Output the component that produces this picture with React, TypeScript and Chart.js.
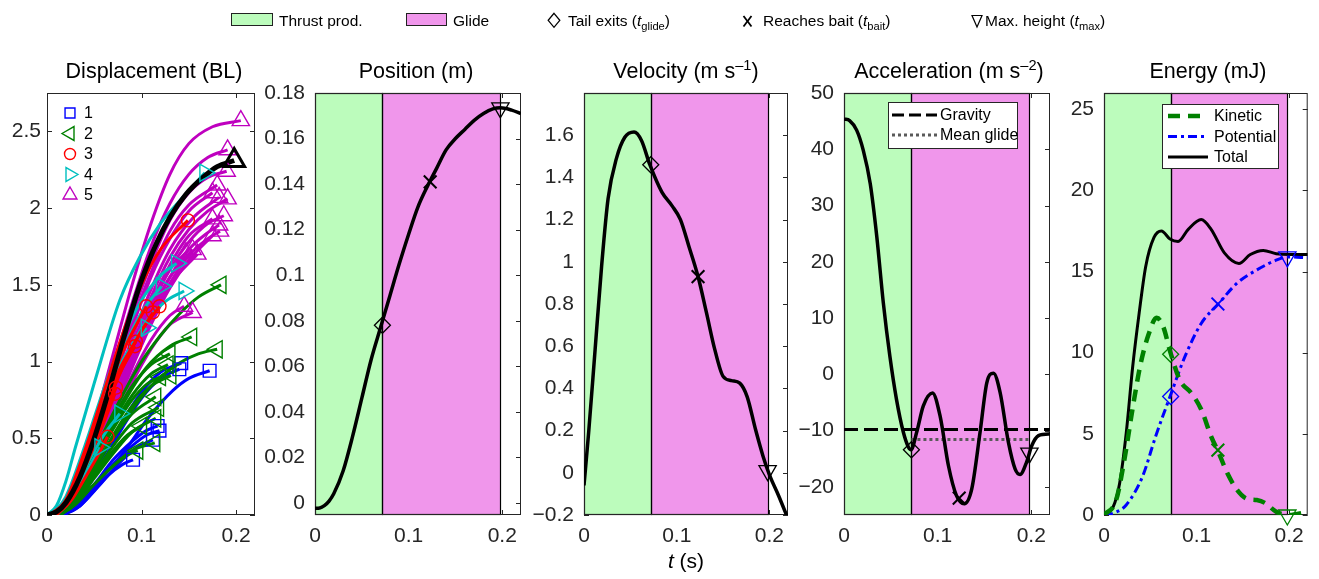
import React, { useEffect, useRef } from 'react';
import { Chart, registerables } from 'chart.js';

Chart.register(...registerables);

const FONT = "'Liberation Sans', Arial, Helvetica, sans-serif";
const AXIS_COLOR = '#262626';
const THRUST_FILL = 'rgb(188,252,188)';
const GLIDE_FILL = 'rgb(240,150,235)';
const PAGE_W = 1319;
const PAGE_H = 579;
const PLOT_TOP = 93;
const PLOT_BOTTOM = 515;
const X_AXIS_H = 40;

// ---- shared time axis ----
const tLimits = [0, 0.22];
const tTicks = [0, 0.1, 0.2];
const tTickLabels = ['0', '0.1', '0.2'];

// ---- event times (s) ----
const tGlide = 0.072;
const tBait = 0.123;
const tPeak = 0.198;
const eventTimes = [tGlide, tBait, tPeak];
const eventStyles = ['rectRot', 'crossRot', 'triangle'];
const eventRotation = [0, 0, 180];
const eventRadius = [8, 9, 10];
const eventLineWidth = [1.3, 2, 1.3];

// ---- Displacement (BL) ----
const dispTicks = [0, 0.5, 1, 1.5, 2, 2.5];
const dispTickLabels = ['0', '0.5', '1', '1.5', '2', '2.5'];
const groupNames = ['1', '2', '3', '4', '5'];
const groupColors = ['#0000FF', '#008000', '#FF0000', '#00BFBF', '#BF00BF'];
const groupMarkers = ['rect', 'triangle', 'circle', 'triangle', 'triangle'];
const groupMarkerRot = [0, 270, 0, 90, 0];
const groupMarkerSize = [9, 10, 6.5, 10, 10];
const groupLegendSize = [7, 8, 5.5, 8, 8];

const dispGroup1 = [
  [[0.014, 0], [0.03, 0.05], [0.05, 0.19], [0.08, 0.4], [0.108, 0.64], [0.133, 0.81], [0.15, 0.89], [0.172, 0.94]],
  [[0.012, 0], [0.03, 0.08], [0.05, 0.28], [0.075, 0.56], [0.1, 0.8], [0.12, 0.93], [0.142, 0.99]],
  [[0.013, 0], [0.03, 0.07], [0.05, 0.25], [0.075, 0.52], [0.1, 0.76], [0.12, 0.89], [0.14, 0.95]],
  [[0.015, 0], [0.03, 0.06], [0.05, 0.2], [0.07, 0.36], [0.09, 0.48], [0.105, 0.55], [0.117, 0.58]],
  [[0.016, 0], [0.03, 0.05], [0.05, 0.18], [0.07, 0.33], [0.09, 0.45], [0.105, 0.52], [0.119, 0.55]],
  [[0.017, 0], [0.035, 0.06], [0.055, 0.19], [0.075, 0.33], [0.095, 0.44], [0.112, 0.49]],
  [[0.018, 0], [0.035, 0.06], [0.05, 0.16], [0.065, 0.26], [0.08, 0.33], [0.091, 0.36]],
];
const dispGroup2 = [
  [[0.008, 0], [0.025, 0.1], [0.049, 0.4], [0.073, 0.7], [0.098, 0.98], [0.12, 1.17], [0.14, 1.31], [0.16, 1.42], [0.184, 1.5]],
  [[0.01, 0], [0.03, 0.1], [0.05, 0.3], [0.08, 0.6], [0.11, 0.84], [0.14, 0.99], [0.16, 1.05], [0.18, 1.08]],
  [[0.008, 0], [0.03, 0.12], [0.05, 0.36], [0.08, 0.72], [0.105, 0.96], [0.13, 1.1], [0.153, 1.16]],
  [[0.008, 0], [0.03, 0.13], [0.05, 0.38], [0.07, 0.63], [0.09, 0.84], [0.11, 0.98], [0.13, 1.05]],
  [[0.01, 0], [0.03, 0.11], [0.05, 0.34], [0.07, 0.58], [0.09, 0.78], [0.11, 0.92], [0.128, 0.98]],
  [[0.01, 0], [0.03, 0.1], [0.05, 0.3], [0.07, 0.52], [0.09, 0.71], [0.11, 0.84], [0.131, 0.91]],
  [[0.009, 0], [0.03, 0.11], [0.05, 0.33], [0.07, 0.56], [0.09, 0.75], [0.105, 0.85], [0.12, 0.9]],
  [[0.01, 0], [0.03, 0.1], [0.05, 0.3], [0.07, 0.5], [0.09, 0.66], [0.115, 0.77]],
  [[0.012, 0], [0.03, 0.09], [0.05, 0.27], [0.07, 0.45], [0.09, 0.6], [0.118, 0.7]],
  [[0.012, 0], [0.03, 0.08], [0.05, 0.24], [0.07, 0.4], [0.09, 0.54], [0.115, 0.63]],
  [[0.011, 0], [0.03, 0.09], [0.05, 0.26], [0.07, 0.42], [0.085, 0.52], [0.1, 0.58]],
  [[0.014, 0], [0.03, 0.07], [0.05, 0.2], [0.07, 0.32], [0.09, 0.42], [0.114, 0.47]],
  [[0.014, 0], [0.03, 0.07], [0.05, 0.2], [0.07, 0.32], [0.085, 0.39], [0.096, 0.42]],
];
const dispGroup3 = [
  [[0.003, 0], [0.02, 0.1], [0.04, 0.42], [0.06, 0.8], [0.08, 1.18], [0.1, 1.5], [0.12, 1.73], [0.149, 1.92]],
  [[0.005, 0], [0.02, 0.09], [0.04, 0.38], [0.06, 0.74], [0.08, 1.06], [0.105, 1.36]],
  [[0.006, 0], [0.02, 0.08], [0.04, 0.34], [0.06, 0.66], [0.08, 0.96], [0.1, 1.2], [0.119, 1.36]],
  [[0.006, 0], [0.02, 0.09], [0.04, 0.36], [0.06, 0.68], [0.08, 0.98], [0.1, 1.2], [0.112, 1.32]],
  [[0.005, 0], [0.02, 0.09], [0.04, 0.38], [0.06, 0.72], [0.08, 0.99], [0.094, 1.13]],
  [[0.006, 0], [0.02, 0.08], [0.04, 0.36], [0.06, 0.69], [0.08, 0.96], [0.093, 1.1]],
  [[0.006, 0], [0.02, 0.08], [0.04, 0.33], [0.06, 0.63], [0.073, 0.83]],
  [[0.007, 0], [0.02, 0.07], [0.04, 0.31], [0.06, 0.6], [0.072, 0.79]],
  [[0.01, 0], [0.025, 0.09], [0.04, 0.24], [0.055, 0.4], [0.064, 0.51]],
];
const dispGroup4 = [
  [[0, 0], [0.01, 0.06], [0.02, 0.22], [0.03, 0.44], [0.05, 0.86], [0.077, 1.4], [0.098, 1.68], [0.12, 1.9], [0.145, 2.08], [0.167, 2.23]],
  [[0.005, 0], [0.02, 0.12], [0.04, 0.45], [0.06, 0.82], [0.08, 1.15], [0.1, 1.4], [0.12, 1.56], [0.137, 1.64]],
  [[0.008, 0], [0.02, 0.1], [0.04, 0.4], [0.06, 0.75], [0.08, 1.07], [0.1, 1.32], [0.121, 1.49]],
  [[0.008, 0], [0.025, 0.14], [0.045, 0.45], [0.065, 0.78], [0.085, 1.05], [0.105, 1.26], [0.125, 1.39], [0.145, 1.46]],
  [[0.008, 0], [0.025, 0.15], [0.045, 0.48], [0.065, 0.82], [0.085, 1.06], [0.105, 1.22]],
  [[0.01, 0], [0.025, 0.1], [0.04, 0.3], [0.06, 0.52], [0.077, 0.66]],
  [[0.01, 0], [0.025, 0.1], [0.04, 0.26], [0.056, 0.44]],
];
const dispGroup5 = [
  [[0.01, 0], [0.03, 0.2], [0.05, 0.6], [0.07, 1.05], [0.09, 1.5], [0.11, 1.9], [0.13, 2.22], [0.15, 2.42], [0.175, 2.53], [0.205, 2.57]],
  [[0.012, 0], [0.03, 0.18], [0.05, 0.55], [0.07, 0.97], [0.09, 1.38], [0.11, 1.75], [0.13, 2.03], [0.15, 2.22], [0.17, 2.33], [0.191, 2.38]],
  [[0.012, 0], [0.03, 0.17], [0.05, 0.52], [0.07, 0.92], [0.09, 1.3], [0.11, 1.64], [0.13, 1.92], [0.15, 2.1], [0.17, 2.2], [0.19, 2.24]],
  [[0.013, 0], [0.03, 0.16], [0.05, 0.5], [0.07, 0.88], [0.09, 1.25], [0.11, 1.58], [0.13, 1.85], [0.15, 2.02], [0.18, 2.15]],
  [[0.013, 0], [0.03, 0.16], [0.05, 0.48], [0.07, 0.85], [0.09, 1.22], [0.11, 1.55], [0.13, 1.8], [0.15, 1.98], [0.175, 2.1]],
  [[0.015, 0], [0.03, 0.13], [0.05, 0.42], [0.07, 0.76], [0.09, 1.1], [0.11, 1.42], [0.13, 1.68], [0.15, 1.86], [0.17, 1.98], [0.191, 2.06]],
  [[0.014, 0], [0.03, 0.14], [0.05, 0.45], [0.07, 0.8], [0.09, 1.15], [0.11, 1.47], [0.13, 1.73], [0.155, 1.94], [0.182, 2.07]],
  [[0.015, 0], [0.03, 0.13], [0.05, 0.4], [0.07, 0.72], [0.09, 1.04], [0.11, 1.35], [0.13, 1.6], [0.15, 1.78], [0.17, 1.9], [0.187, 1.95]],
  [[0.014, 0], [0.03, 0.14], [0.05, 0.43], [0.07, 0.76], [0.09, 1.08], [0.11, 1.38], [0.13, 1.63], [0.15, 1.82], [0.175, 1.93]],
  [[0.016, 0], [0.03, 0.12], [0.05, 0.39], [0.07, 0.7], [0.09, 1.01], [0.11, 1.3], [0.13, 1.55], [0.15, 1.73], [0.17, 1.84], [0.182, 1.89]],
  [[0.016, 0], [0.03, 0.12], [0.05, 0.38], [0.07, 0.68], [0.09, 0.98], [0.11, 1.27], [0.13, 1.51], [0.15, 1.69], [0.17, 1.8], [0.183, 1.85]],
  [[0.017, 0], [0.03, 0.11], [0.05, 0.36], [0.07, 0.66], [0.09, 0.96], [0.11, 1.24], [0.13, 1.48], [0.15, 1.66], [0.175, 1.82]],
  [[0.015, 0], [0.03, 0.13], [0.05, 0.41], [0.07, 0.74], [0.09, 1.05], [0.11, 1.33], [0.13, 1.55], [0.154, 1.73]],
  [[0.016, 0], [0.03, 0.12], [0.05, 0.38], [0.07, 0.69], [0.09, 0.99], [0.11, 1.27], [0.13, 1.5], [0.159, 1.7]],
  [[0.014, 0], [0.03, 0.14], [0.05, 0.44], [0.07, 0.78], [0.09, 1.1], [0.11, 1.38], [0.13, 1.6], [0.147, 1.71]],
  [[0.016, 0], [0.03, 0.11], [0.05, 0.33], [0.07, 0.6], [0.09, 0.86], [0.11, 1.08], [0.13, 1.24], [0.154, 1.32]],
  [[0.015, 0], [0.03, 0.12], [0.05, 0.36], [0.07, 0.64], [0.09, 0.91], [0.11, 1.14], [0.13, 1.3], [0.145, 1.36]],
];
const dispHighlightT = [0, 0.01, 0.02, 0.035, 0.05, 0.064, 0.08, 0.093, 0.1, 0.115, 0.13, 0.147, 0.165, 0.18, 0.198];
const dispHighlightY = [0, 0.02, 0.08, 0.25, 0.5, 0.78, 1.13, 1.4, 1.53, 1.76, 1.94, 2.09, 2.2, 2.27, 2.31];

// ---- Position (m) ----
const posTicks = [0, 0.02, 0.04, 0.06, 0.08, 0.1, 0.12, 0.14, 0.16, 0.18];
const posTickLabels = ['0', '0.02', '0.04', '0.06', '0.08', '0.1', '0.12', '0.14', '0.16', '0.18'];
const posT = [0, 0.005, 0.01, 0.015, 0.02, 0.03, 0.04, 0.05, 0.06, 0.07, 0.08, 0.09, 0.1, 0.11, 0.12, 0.13, 0.14, 0.15, 0.16, 0.17, 0.18, 0.19, 0.198, 0.21, 0.22];
const posY = [-0.0023, -0.0022, -0.0012, 0.0008, 0.004, 0.014, 0.029, 0.046, 0.063, 0.077, 0.091, 0.105, 0.118, 0.13, 0.139, 0.147, 0.155, 0.16, 0.164, 0.168, 0.171, 0.173, 0.1735, 0.1725, 0.171];
const posEvents = [0.078, 0.141, 0.1735];

// ---- Velocity (m/s) ----
const velTicks = [-0.2, 0, 0.2, 0.4, 0.6, 0.8, 1, 1.2, 1.4, 1.6];
const velTickLabels = ['\u22120.2', '0', '0.2', '0.4', '0.6', '0.8', '1', '1.2', '1.4', '1.6'];
const velT = [0, 0.005, 0.012, 0.019, 0.026, 0.035, 0.044, 0.054, 0.062, 0.071, 0.084, 0.095, 0.104, 0.113, 0.123, 0.132, 0.141, 0.15, 0.159, 0.168, 0.176, 0.185, 0.193, 0.2, 0.21, 0.222];
const velY = [-0.06, 0.19, 0.585, 0.98, 1.3, 1.49, 1.59, 1.615, 1.575, 1.46, 1.33, 1.265, 1.2, 1.075, 0.93, 0.76, 0.585, 0.457, 0.437, 0.425, 0.36, 0.205, 0.08, -0.01, -0.11, -0.24];
const velEvents = [1.46, 0.93, 0.01];

// ---- Acceleration (m/s^2) ----
const accTicks = [-20, -10, 0, 10, 20, 30, 40, 50];
const accTickLabels = ['\u221220', '\u221210', '0', '10', '20', '30', '40', '50'];
const accT = [0, 0.006, 0.0135, 0.0206, 0.028, 0.035, 0.042, 0.049, 0.056, 0.0634, 0.0687, 0.0716, 0.0776, 0.0847, 0.0945, 0.1026, 0.1115, 0.12, 0.1285, 0.1364, 0.1453, 0.1525, 0.1596, 0.1667, 0.1756, 0.1827, 0.188, 0.195, 0.2005, 0.2077, 0.2184, 0.22];
const accY = [45.4, 45.1, 43.4, 39.8, 33.9, 24.5, 12.7, 3.2, -4.4, -10.3, -12.9, -13.4, -10.3, -5.6, -3.3, -7.4, -16.2, -21.5, -23.0, -20.4, -10.3, -1.5, 0.2, -3.2, -12.1, -16.8, -17.8, -15.6, -12.7, -10.9, -10.6, -10.6];
const accEvents = [-13.4, -22.0, -14.0];
const gravityAcc = -9.81;
const meanGlideAcc = -11.6;

// ---- Energy (mJ) ----
const energyTicks = [0, 5, 10, 15, 20, 25];
const energyTickLabels = ['0', '5', '10', '15', '20', '25'];
const totalT = [0, 0.0099, 0.0169, 0.024, 0.031, 0.038, 0.045, 0.054, 0.062, 0.0713, 0.08, 0.091, 0.105, 0.1157, 0.13, 0.1457, 0.158, 0.172, 0.186, 0.2, 0.22];
const totalY = [0, 0.5, 1.96, 5.04, 9.15, 12.45, 15.3, 17.1, 17.5, 17.0, 16.85, 17.6, 18.2, 17.6, 16.15, 15.5, 16.05, 16.3, 16.1, 16.05, 16.05];
const kineticT = [0, 0.013, 0.022, 0.031, 0.0395, 0.048, 0.0568, 0.064, 0.0713, 0.082, 0.0945, 0.105, 0.116, 0.1234, 0.133, 0.1437, 0.1543, 0.165, 0.174, 0.186, 0.198, 0.22];
const kineticY = [0, 0.9, 3.4, 6.6, 9.3, 11.1, 12.15, 11.6, 10.1, 8.3, 7.5, 6.5, 4.8, 3.9, 2.6, 1.55, 1.0, 0.92, 0.74, 0.2, 0.0, 0.2];
const potentialT = [0, 0.012, 0.024, 0.0416, 0.0557, 0.0713, 0.0875, 0.105, 0.1234, 0.144, 0.165, 0.186, 0.1986, 0.22];
const potentialY = [0, 0.15, 0.62, 2.37, 4.83, 7.3, 9.77, 11.8, 13.0, 14.3, 15.1, 15.7, 15.9, 15.85];
const kineticEvents = [9.9, 4.0, 0.0];
const potentialEvents = [7.3, 13.0, 15.9];

// ---------------- helpers ----------------
const pts = (xs: number[], ys: number[]) => xs.map((x, i) => ({ x, y: ys[i] }));
const pairPts = (arr: number[][]) => arr.map(([x, y]) => ({ x, y }));

function curve(data: any[], color: string, width: number, dash: number[] = []) {
  return {
    data,
    showLine: true,
    borderColor: color,
    backgroundColor: color,
    borderWidth: width,
    borderDash: dash,
    borderCapStyle: 'butt',
    borderJoinStyle: 'round',
    pointRadius: 0,
    pointHoverRadius: 0,
    cubicInterpolationMode: 'monotone',
    fill: false,
    clip: 0,
  };
}

function eventMarkers(ys: number[], color: string) {
  return {
    data: eventTimes.map((t, i) => ({ x: t, y: ys[i] })),
    showLine: false,
    pointStyle: eventStyles,
    pointRotation: eventRotation,
    pointRadius: eventRadius,
    pointHoverRadius: eventRadius,
    pointBorderWidth: eventLineWidth,
    pointBorderColor: color,
    pointBackgroundColor: 'rgba(0,0,0,0)',
    clip: false,
  };
}

function endMarkers(curves: number[][][], g: number) {
  return {
    data: curves.map((c) => ({ x: c[c.length - 1][0], y: c[c.length - 1][1] })),
    showLine: false,
    pointStyle: groupMarkers[g],
    pointRotation: groupMarkerRot[g],
    pointRadius: groupMarkerSize[g],
    pointHoverRadius: groupMarkerSize[g],
    pointBorderWidth: 1.4,
    pointBorderColor: groupColors[g],
    pointBackgroundColor: 'rgba(0,0,0,0)',
    clip: false,
  };
}

function drawMarker(ctx: CanvasRenderingContext2D, style: string, rot: number, x: number, y: number, r: number, color: string, lw: number) {
  ctx.save();
  ctx.strokeStyle = color;
  ctx.lineWidth = lw;
  ctx.setLineDash([]);
  ctx.beginPath();
  if (style === 'circle') {
    ctx.arc(x, y, r, 0, Math.PI * 2);
  } else if (style === 'rect') {
    const s = r * Math.SQRT1_2;
    ctx.rect(x - s, y - s, 2 * s, 2 * s);
  } else {
    let rad = (rot * Math.PI) / 180;
    for (let k = 0; k < 3; k++) {
      const px = x + Math.sin(rad) * r;
      const py = y - Math.cos(rad) * r;
      if (k === 0) ctx.moveTo(px, py);
      else ctx.lineTo(px, py);
      rad += (2 * Math.PI) / 3;
    }
    ctx.closePath();
  }
  ctx.stroke();
  ctx.restore();
}

function drawLegendBox(chart: any, cfg: any) {
  const { ctx, chartArea: a } = chart;
  const bx = a.left + cfg.dx;
  const by = a.top + cfg.dy;
  ctx.save();
  ctx.fillStyle = '#fff';
  ctx.fillRect(bx, by, cfg.w, cfg.h);
  ctx.strokeStyle = AXIS_COLOR;
  ctx.lineWidth = 1;
  ctx.setLineDash([]);
  ctx.strokeRect(bx + 0.5, by + 0.5, cfg.w - 1, cfg.h - 1);
  cfg.items.forEach((it: any, i: number) => {
    const y = by + cfg.rows[i];
    ctx.strokeStyle = it.color;
    ctx.lineWidth = it.width;
    ctx.setLineDash(it.dash);
    ctx.beginPath();
    ctx.moveTo(bx + cfg.s0, y);
    ctx.lineTo(bx + cfg.s1, y);
    ctx.stroke();
    ctx.setLineDash([]);
    ctx.fillStyle = '#000';
    ctx.font = `16px ${FONT}`;
    ctx.textBaseline = 'middle';
    ctx.textAlign = 'left';
    ctx.fillText(it.label, bx + cfg.tx, y + 1);
  });
  ctx.restore();
}

function framePlugin(spec: any) {
  return {
    id: 'frame_' + spec.id,
    beforeDatasetsDraw(chart: any) {
      const { ctx, chartArea: a, scales } = chart;
      const xs = scales.x;
      const ys = scales.y;
      ctx.save();
      ctx.strokeStyle = AXIS_COLOR;
      ctx.lineWidth = 1;
      ctx.setLineDash([]);
      ctx.beginPath();
      spec.yTicks.forEach((v: number) => {
        const py = Math.round(ys.getPixelForValue(v)) + 0.5;
        ctx.moveTo(a.left, py);
        ctx.lineTo(a.left + 5, py);
        ctx.moveTo(a.right, py);
        ctx.lineTo(a.right - 5, py);
      });
      tTicks.forEach((v) => {
        const px = Math.round(xs.getPixelForValue(v)) + 0.5;
        ctx.moveTo(px, a.bottom);
        ctx.lineTo(px, a.bottom - 5);
        ctx.moveTo(px, a.top);
        ctx.lineTo(px, a.top + 5);
      });
      ctx.stroke();
      if (spec.phases) {
        const x0 = Math.round(xs.getPixelForValue(0));
        const x1 = Math.round(xs.getPixelForValue(tGlide));
        const x2 = Math.round(xs.getPixelForValue(tPeak));
        ctx.fillStyle = THRUST_FILL;
        ctx.fillRect(x0, a.top, x1 - x0, a.height);
        ctx.fillStyle = GLIDE_FILL;
        ctx.fillRect(x1, a.top, x2 - x1, a.height);
        ctx.strokeStyle = '#000';
        ctx.lineWidth = 1.2;
        ctx.strokeRect(x0 + 0.5, a.top + 0.5, x1 - x0, a.height - 1);
        ctx.strokeRect(x1 + 0.5, a.top + 0.5, x2 - x1, a.height - 1);
      }
      ctx.strokeStyle = AXIS_COLOR;
      ctx.lineWidth = 1;
      ctx.strokeRect(a.left + 0.5, a.top + 0.5, a.width - 1, a.height - 1);
      ctx.restore();
    },
    afterDatasetsDraw(chart: any) {
      if (spec.legend) spec.legend(chart);
    },
  };
}

function makeChart(canvas: HTMLCanvasElement, spec: any) {
  const yw = spec.yAxisWidth;
  // Chart.js paints the first dataset on top, so hand them over in reverse
  const datasets = [...spec.datasets].reverse();
  return new Chart(canvas, {
    type: 'scatter',
    data: { datasets },
    options: {
      animation: false,
      responsive: false,
      maintainAspectRatio: false,
      devicePixelRatio: 1,
      events: [],
      layout: {
        padding: {
          left: spec.left - yw,
          right: PAGE_W - spec.right,
          top: PLOT_TOP,
          bottom: PAGE_H - PLOT_BOTTOM - X_AXIS_H,
        },
      },
      plugins: {
        legend: { display: false },
        tooltip: { enabled: false },
        title: { display: false },
      },
      scales: {
        x: {
          type: 'linear',
          min: tLimits[0],
          max: tLimits[1],
          grid: { display: false, drawTicks: false },
          border: { display: false },
          afterBuildTicks: (s: any) => {
            s.ticks = tTicks.map((v) => ({ value: v }));
          },
          afterFit: (s: any) => {
            s.height = X_AXIS_H;
          },
          ticks: {
            font: { family: FONT, size: 21 },
            color: AXIS_COLOR,
            padding: 9,
            maxRotation: 0,
            minRotation: 0,
            autoSkip: false,
            callback: (_v: any, i: number) => tTickLabels[i],
          },
        },
        y: {
          type: 'linear',
          min: spec.yMin,
          max: spec.yMax,
          grid: { display: false, drawTicks: false },
          border: { display: false },
          afterBuildTicks: (s: any) => {
            s.ticks = spec.yTicks.map((v: number) => ({ value: v }));
          },
          afterFit: (s: any) => {
            s.width = yw;
          },
          ticks: {
            font: { family: FONT, size: 21 },
            color: AXIS_COLOR,
            padding: spec.yPad,
            autoSkip: false,
            callback: (_v: any, i: number) => spec.yTickLabels[i],
          },
        },
      },
    } as any,
    plugins: [framePlugin(spec)],
  } as any);
}

// ---------------- panel specs ----------------
function buildPanels() {
  const dispGroups = [dispGroup1, dispGroup2, dispGroup3, dispGroup4, dispGroup5];
  // painted bottom -> top
  const drawOrder = [4, 0, 1, 3, 2];
  const dispDatasets: any[] = [];
  drawOrder.forEach((g) => {
    dispGroups[g].forEach((c) => dispDatasets.push(curve(pairPts(c), groupColors[g], 3)));
  });
  dispDatasets.push(curve(pts(dispHighlightT, dispHighlightY), '#000', 5));
  drawOrder.forEach((g) => dispDatasets.push(endMarkers(dispGroups[g], g)));
  dispDatasets.push({
    data: [{ x: dispHighlightT[dispHighlightT.length - 1], y: dispHighlightY[dispHighlightY.length - 1] }],
    showLine: false,
    pointStyle: 'triangle',
    pointRadius: 12,
    pointBorderWidth: 3,
    pointBorderColor: '#000',
    pointBackgroundColor: 'rgba(0,0,0,0)',
    clip: false,
  });

  const dispLegend = (chart: any) => {
    const { ctx, chartArea: a } = chart;
    groupNames.forEach((name, i) => {
      const y = a.top + 20 + i * 20.5;
      drawMarker(ctx, groupMarkers[i], groupMarkerRot[i], a.left + 23, y, groupLegendSize[i], groupColors[i], 1.4);
      ctx.save();
      ctx.fillStyle = '#000';
      ctx.font = `16px ${FONT}`;
      ctx.textBaseline = 'middle';
      ctx.textAlign = 'left';
      ctx.fillText(name, a.left + 37, y + 1);
      ctx.restore();
    });
  };

  const accLegend = (chart: any) =>
    drawLegendBox(chart, {
      dx: 44, dy: 9, w: 130, h: 47, rows: [13, 33], s0: 4, s1: 49, tx: 52,
      items: [
        { label: 'Gravity', color: '#000', width: 3, dash: [12, 5] },
        { label: 'Mean glide', color: 'rgb(90,90,90)', width: 3, dash: [3, 3] },
      ],
    });

  const energyLegend = (chart: any) =>
    drawLegendBox(chart, {
      dx: 58, dy: 11, w: 117, h: 65, rows: [12, 32.5, 53], s0: 6, s1: 46, tx: 52,
      items: [
        { label: 'Kinetic', color: '#008000', width: 4.5, dash: [12, 8] },
        { label: 'Potential', color: '#0000FF', width: 3, dash: [9, 4, 3, 4] },
        { label: 'Total', color: '#000', width: 3, dash: [] },
      ],
    });

  return [
    {
      id: 'disp', left: 47, right: 255, yMin: 0, yMax: 2.75, yTicks: dispTicks, yTickLabels: dispTickLabels,
      yAxisWidth: 45, yPad: 6, phases: false, datasets: dispDatasets, legend: dispLegend,
    },
    {
      id: 'pos', left: 315, right: 521, yMin: -0.0053, yMax: 0.18, yTicks: posTicks, yTickLabels: posTickLabels,
      yAxisWidth: 70, yPad: 10, phases: true,
      datasets: [curve(pts(posT, posY), '#000', 3.5), eventMarkers(posEvents, '#000')],
    },
    {
      id: 'vel', left: 584, right: 788, yMin: -0.2, yMax: 1.8, yTicks: velTicks, yTickLabels: velTickLabels,
      yAxisWidth: 70, yPad: 10, phases: true,
      datasets: [curve(pts(velT, velY), '#000', 3.5), eventMarkers(velEvents, '#000')],
    },
    {
      id: 'acc', left: 844, right: 1050, yMin: -25, yMax: 50, yTicks: accTicks, yTickLabels: accTickLabels,
      yAxisWidth: 70, yPad: 10, phases: true, legend: accLegend,
      datasets: [
        curve([{ x: tLimits[0], y: gravityAcc }, { x: tLimits[1], y: gravityAcc }], '#000', 3, [14, 6]),
        curve([{ x: tGlide, y: meanGlideAcc }, { x: tPeak, y: meanGlideAcc }], 'rgb(90,90,90)', 3, [3, 3]),
        curve(pts(accT, accY), '#000', 3.5),
        eventMarkers(accEvents, '#000'),
      ],
    },
    {
      id: 'energy', left: 1104, right: 1312, yMin: 0, yMax: 26, yTicks: energyTicks, yTickLabels: energyTickLabels,
      yAxisWidth: 70, yPad: 10, phases: true, legend: energyLegend,
      datasets: [
        curve(pts(totalT, totalY), '#000', 3),
        curve(pts(potentialT, potentialY), '#0000FF', 3, [9, 4, 3, 4]),
        curve(pts(kineticT, kineticY), '#008000', 4.5, [12, 8]),
        eventMarkers(potentialEvents, '#0000FF'),
        eventMarkers(kineticEvents, '#008000'),
      ],
    },
  ];
}

const supStyle: React.CSSProperties = { fontSize: '0.68em', verticalAlign: '0.55em', lineHeight: 0 };
const panelTitles: { center: number; node: React.ReactNode }[] = [
  { center: 154, node: <>Displacement (BL)</> },
  { center: 416, node: <>Position (m)</> },
  { center: 686, node: <>Velocity (m s<span style={supStyle}>–1</span>)</> },
  { center: 949, node: <>Acceleration (m s<span style={supStyle}>–2</span>)</> },
  { center: 1208, node: <>Energy (mJ)</> },
];

const subStyle: React.CSSProperties = { fontSize: '0.72em', verticalAlign: '-0.35em', lineHeight: 0 };
const legendText: React.CSSProperties = {
  position: 'absolute', top: 12, fontSize: 15.5, lineHeight: '18px', whiteSpace: 'nowrap', color: '#000',
};

export default function App() {
  const canvasRefs = useRef<(HTMLCanvasElement | null)[]>([]);

  useEffect(() => {
    const panels = buildPanels();
    const charts = panels.map((p, i) => makeChart(canvasRefs.current[i] as HTMLCanvasElement, p));
    return () => charts.forEach((c) => c.destroy());
  }, []);

  return (
    <div
      style={{
        position: 'absolute', left: 0, top: 0, width: PAGE_W, height: PAGE_H, background: '#fff',
        fontFamily: FONT, color: '#000', overflow: 'hidden',
      }}
    >
      {[0, 1, 2, 3, 4].map((i) => (
        <canvas
          key={i}
          ref={(el) => { canvasRefs.current[i] = el; }}
          width={PAGE_W}
          height={PAGE_H}
          style={{ position: 'absolute', left: 0, top: 0, width: PAGE_W, height: PAGE_H }}
        />
      ))}

      {panelTitles.map((t, i) => (
        <div
          key={i}
          style={{
            position: 'absolute', left: t.center - 150, width: 300, top: 59, textAlign: 'center',
            fontSize: 21.5, lineHeight: '24px', whiteSpace: 'nowrap',
          }}
        >
          {t.node}
        </div>
      ))}

      {/* top legend */}
      <div style={{ position: 'absolute', left: 231, top: 13, width: 42, height: 13, background: THRUST_FILL, border: '1px solid #222', boxSizing: 'border-box' }} />
      <div style={{ ...legendText, left: 279 }}>Thrust prod.</div>
      <div style={{ position: 'absolute', left: 406, top: 13, width: 41, height: 13, background: GLIDE_FILL, border: '1px solid #222', boxSizing: 'border-box' }} />
      <div style={{ ...legendText, left: 453 }}>Glide</div>
      <svg style={{ position: 'absolute', left: 546, top: 11 }} width={16} height={20}>
        <polygon points="8,2.3 13.8,9.3 8,16.3 2.2,9.3" fill="none" stroke="#000" strokeWidth={1.3} />
      </svg>
      <div style={{ ...legendText, left: 568 }}>
        Tail exits (<i>t</i><span style={subStyle}>glide</span>)
      </div>
      <svg style={{ position: 'absolute', left: 741, top: 14 }} width={13} height={14}>
        <line x1={2.5} y1={2} x2={10.5} y2={12.5} stroke="#000" strokeWidth={1.8} />
        <line x1={10.5} y1={2} x2={2.5} y2={12.5} stroke="#000" strokeWidth={1.8} />
      </svg>
      <div style={{ ...legendText, left: 763 }}>
        Reaches bait (<i>t</i><span style={subStyle}>bait</span>)
      </div>
      <svg style={{ position: 'absolute', left: 970, top: 13 }} width={14} height={16}>
        <polygon points="2,2.5 12,2.5 7,14" fill="none" stroke="#000" strokeWidth={1.2} />
      </svg>
      <div style={{ ...legendText, left: 985 }}>
        Max. height (<i>t</i><span style={subStyle}>max</span>)
      </div>

      {/* shared x label */}
      <div
        style={{
          position: 'absolute', left: 586, width: 200, top: 549, textAlign: 'center', fontSize: 21, lineHeight: '24px',
        }}
      >
        <i>t</i> (s)
      </div>
    </div>
  );
}
